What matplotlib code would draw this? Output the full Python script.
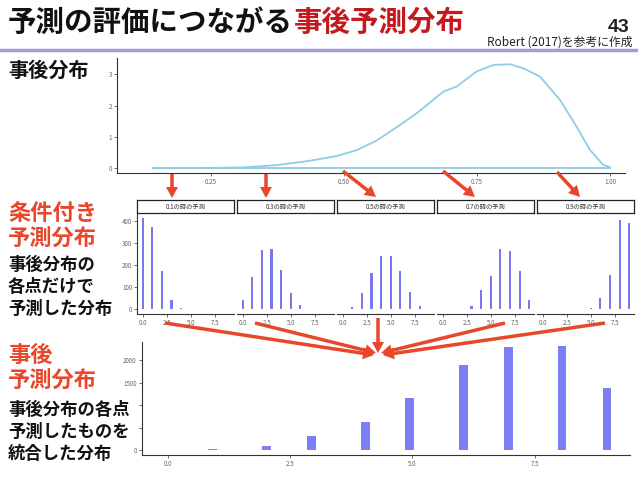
import matplotlib
matplotlib.use("Agg")
import matplotlib.pyplot as plt
from matplotlib.patches import FancyArrow
from matplotlib.lines import Line2D

plt.rcParams['font.family'] = ['Noto Sans CJK JP', 'DejaVu Sans']

# Daten: Posteriori-Dichte (oben)
post_x = [0.141, 0.20, 0.25, 0.311, 0.373, 0.436, 0.486, 0.524, 0.561, 0.599, 0.637,
          0.687, 0.712, 0.749, 0.781, 0.812, 0.837, 0.868, 0.906, 0.937, 0.962, 0.987, 1.0]
post_y = [0.0, 0.004, 0.01, 0.03, 0.10, 0.24, 0.39, 0.58, 0.88, 1.31, 1.76,
          2.45, 2.61, 3.09, 3.30, 3.32, 3.19, 2.93, 2.18, 1.33, 0.59, 0.11, 0.03]

# Bedingte Vorhersageverteilungen (Mitte)
cond_x = [0, 1, 2, 3, 4, 5, 6, 7, 8, 9]
cond_labels = ["0.1の時の予測", "0.3の時の予測", "0.5の時の予測", "0.7の時の予測", "0.9の時の予測"]
cond_p01 = [412, 373, 172, 39, 6, 0, 0, 0, 0, 0]
cond_p03 = [41, 147, 268, 272, 177, 71, 18, 2, 0, 0]
cond_p05 = [1, 11, 71, 162, 240, 240, 172, 79, 14, 2]
cond_p07 = [0, 0, 2, 12, 86, 148, 272, 263, 172, 41]
cond_p09 = [0, 0, 0, 0, 0, 6, 51, 154, 403, 388]
cond_all = [cond_p01, cond_p03, cond_p05, cond_p07, cond_p09]

# Posteriori-Vorhersageverteilung (unten)
pp_x = [0.92, 2.02, 2.94, 4.04, 4.95, 6.05, 6.97, 8.06, 8.98]
pp_count = [30, 80, 311, 615, 1156, 1896, 2296, 2311, 1385]

W, H = 638, 479
fig = plt.figure(figsize=(W / 100, H / 100), dpi=100)
fig.patch.set_facecolor("white")


def rect(l, t, r, b):
    return [l / W, 1 - b / H, (r - l) / W, (b - t) / H]


def classic(ax, left=True):
    for s in ["top", "right"]:
        ax.spines[s].set_visible(False)
    ax.spines["bottom"].set_color("#333333")
    ax.spines["left"].set_color("#333333")
    ax.spines["bottom"].set_linewidth(0.8)
    ax.spines["left"].set_linewidth(0.8)
    ax.spines["left"].set_visible(left)
    ax.tick_params(labelsize=4.5, colors="#333333", labelcolor="#666666",
                   length=2, width=0.5, pad=1.5)
    ax.set_facecolor("none")


bar_color = "#7F7FF5"
red = "#E8472C"

# Oben: Posteriori-Verteilung
ax_top = fig.add_axes(rect(116.7, 58.3, 625, 173.3))
ax_top.plot(post_x, post_y, color="#8FCDE6", lw=1.3)
ax_top.plot([post_x[0], post_x[-1]], [0, 0], color="#8FCDE6", lw=1.3)
ax_top.set_xlim(0.073, 1.028)
ax_top.set_ylim(-0.16, 3.51)
ax_top.set_xticks([0.25, 0.5, 0.75, 1.0])
ax_top.set_xticklabels(["0.25", "0.50", "0.75", "1.00"])
ax_top.set_yticks([0, 1, 2, 3])
classic(ax_top)

# Mitte: Facetten
for i, counts in enumerate(cond_all):
    off = i * 100
    ax = fig.add_axes(rect(137.3 + off, 212.7, 234 + off, 314))
    ax.bar(cond_x, counts, width=0.22, color="#7878F0", edgecolor="none")
    ax.set_xlim(-0.56, 9.5)
    ax.set_ylim(-22.6, 436)
    ax.set_xticks([0, 2.5, 5, 7.5])
    ax.set_xticklabels(["0.0", "2.5", "5.0", "7.5"])
    ax.set_yticks([0, 100, 200, 300, 400])
    classic(ax, left=(i == 0))
    if i > 0:
        ax.tick_params(axis="y", left=False, labelleft=False)
    # Streifen mit Titel
    st = fig.add_axes(rect(137.3 + off, 200, 234 + off, 212.7))
    st.set_xticks([])
    st.set_yticks([])
    for s in st.spines.values():
        s.set_color("#222222")
        s.set_linewidth(0.9)
    st.text(0.5, 0.45, cond_labels[i], ha="center", va="center", fontsize=4.5,
            color="#333333", transform=st.transAxes)

# Unten: Posteriori-Vorhersage
ax_bot = fig.add_axes(rect(141.7, 341.7, 630, 455))
ax_bot.bar(pp_x, pp_count, width=0.18, color=bar_color, edgecolor="none")
ax_bot.set_xlim(-0.53, 9.45)
ax_bot.set_ylim(-111, 2407)
ax_bot.set_xticks([0, 2.5, 5, 7.5])
ax_bot.set_xticklabels(["0.0", "2.5", "5.0", "7.5"])
ax_bot.set_yticks([0, 500, 1000, 1500, 2000])
# 500 und 1000 sind im Original vom Text verdeckt
ax_bot.set_yticklabels(["0", "", "", "1500", "2000"])
classic(ax_bot)

# Titel
fig.text(8 / W, 1 - 23 / H, "予測の評価につながる", fontsize=20.5, fontweight="bold",
         color="#111111", va="center", ha="left")
fig.text(294 / W, 1 - 23 / H, "事後予測分布", fontsize=20.5, fontweight="bold",
         color="#C31A1F", va="center", ha="left")
fig.text(630 / W, 1 - 27 / H, "43", fontsize=14, fontweight="bold", color="#222222",
         va="center", ha="right", family="Liberation Sans")
fig.text(632 / W, 1 - 42 / H, "Robert (2017)を参考に作成", fontsize=8.5, color="#222222",
         va="center", ha="right")
fig.add_artist(Line2D([0, 1], [1 - 50 / H, 1 - 50 / H], color="#9CA1CE", lw=2.5))

# Linke Beschriftungen
fig.text(8 / W, 1 - 70 / H, "事後分布", fontsize=14.5, fontweight="bold", color="#111111",
         va="center")
for y, s in [(213, "条件付き"), (239, "予測分布"), (355, "事後"), (381, "予測分布")]:
    fig.text(8 / W, 1 - y / H, s, fontsize=16, fontweight="bold", color=red, va="center")
for y, s in [(265, "事後分布の"), (287, "各点だけで"), (309, "予測した分布"),
             (410, "事後分布の各点"), (432, "予測したものを"), (454, "統合した分布")]:
    fig.text(8 / W, 1 - y / H, s, fontsize=12.5, fontweight="bold", color="#111111",
             va="center")

# Pfeile (Overlay)
ov = fig.add_axes([0, 0, 1, 1], zorder=10)
ov.set_xlim(0, W)
ov.set_ylim(H, 0)
ov.axis("off")
ov.patch.set_alpha(0)

arrows = [
    ((172, 174), (172, 198)),
    ((266, 174), (266, 198)),
    ((343, 171), (376, 197)),
    ((443, 171), (475, 197)),
    ((557, 172), (580, 197)),
    ((165, 323), (374, 355)),
    ((255, 323), (376, 353)),
    ((378, 318), (378, 353)),
    ((505, 323), (381, 353)),
    ((605, 323), (383, 355)),
]
for (x0, y0), (x1, y1) in arrows:
    ov.add_patch(FancyArrow(x0, y0, x1 - x0, y1 - y0, width=3.5, head_width=12,
                            head_length=11, length_includes_head=True,
                            color=red, lw=0))

fig.savefig("out.png", dpi=100)
